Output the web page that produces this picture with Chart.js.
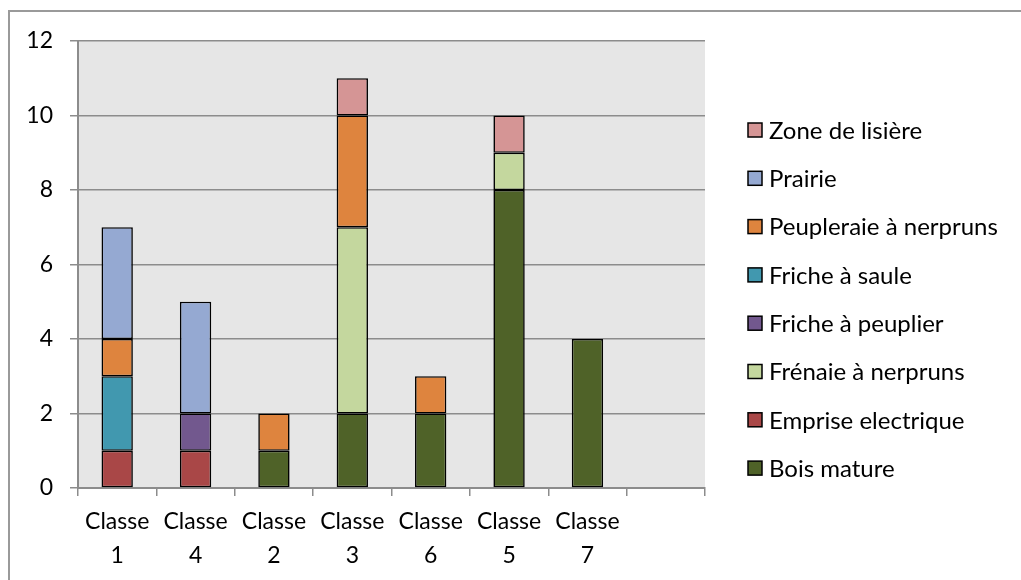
<!DOCTYPE html>
<html>
<head>
<meta charset="utf-8">
<script src="https://cdn.jsdelivr.net/npm/chart.js@4.4.1/dist/chart.umd.min.js"></script>
<style>
  html, body { margin: 0; padding: 0; background: #fff; overflow: hidden; }
  #wrap { position: relative; width: 1021px; height: 580px; }
  #frame {
    position: absolute; left: 8px; top: 10px; width: 1100px; height: 700px;
    border: 2px solid #9a9a9a; box-sizing: border-box;
  }
  canvas { position: absolute; left: 0; top: 0; }
</style>
</head>
<body>
<div id="wrap">
  <div id="frame"></div>
  <canvas id="chart" width="1021" height="580"></canvas>
</div>
<script>
// categories (the last slot stays empty)
const classes = [["Classe", "1"], ["Classe", "4"], ["Classe", "2"], ["Classe", "3"],
                 ["Classe", "6"], ["Classe", "5"], ["Classe", "7"], ""];

// habitat counts per class, bottom of the stack first
const boisMature      = [0, 0, 1, 2, 2, 8, 4, 0];
const empriseElec     = [1, 1, 0, 0, 0, 0, 0, 0];
const frenaie         = [0, 0, 0, 5, 0, 1, 0, 0];
const frichePeuplier  = [0, 1, 0, 0, 0, 0, 0, 0];
const fricheSaule     = [2, 0, 0, 0, 0, 0, 0, 0];
const peupleraie      = [1, 0, 1, 3, 1, 0, 0, 0];
const prairie         = [3, 3, 0, 0, 0, 0, 0, 0];
const zoneLisiere     = [0, 0, 0, 1, 0, 1, 0, 0];

const yTicks = [0, 2, 4, 6, 8, 10, 12];

const FONT = "Lato, 'Open Sans', sans-serif";

function ds(label, data, color) {
  return {
    label, data,
    backgroundColor: color,
    borderColor: "#000",
    borderWidth: 1.6,
    borderSkipped: false,
    barPercentage: 0.4,
    categoryPercentage: 1
  };
}

const datasets = [
  ds("Bois mature", boisMature, "#4f6228"),
  ds("Emprise electrique", empriseElec, "#a94747"),
  ds("Frénaie à nerpruns", frenaie, "#c4d79e"),
  ds("Friche à peuplier", frichePeuplier, "#72588e"),
  ds("Friche à saule", fricheSaule, "#4198af"),
  ds("Peupleraie à nerpruns", peupleraie, "#de843e"),
  ds("Prairie", prairie, "#95a9d2"),
  ds("Zone de lisière", zoneLisiere, "#d59595")
];

// grey plot background
const plotBg = {
  id: "plotBg",
  beforeDraw(chart) {
    const { ctx, chartArea: a } = chart;
    ctx.save();
    ctx.fillStyle = "#e6e6e6";
    ctx.fillRect(a.left, a.top, a.right - a.left, a.bottom - a.top);
    ctx.restore();
  }
};

// legend on the right, top entry = top of the stack
const sideLegend = {
  id: "sideLegend",
  afterDraw(chart) {
    const { ctx } = chart;
    const items = chart.data.datasets.slice().reverse();
    ctx.save();
    ctx.font = "24px " + FONT;
    ctx.textBaseline = "middle";
    items.forEach((d, i) => {
      const y = 130 + i * 48.3;
      ctx.fillStyle = d.backgroundColor;
      ctx.fillRect(748, y - 7, 14, 14);
      ctx.strokeStyle = "#000";
      ctx.lineWidth = 1.5;
      ctx.strokeRect(748, y - 7, 14, 14);
      ctx.fillStyle = "#000";
      ctx.fillText(d.label, 769, y + 1);
    });
    ctx.restore();
  }
};

new Chart(document.getElementById("chart"), {
  type: "bar",
  data: { labels: classes, datasets },
  options: {
    responsive: false,
    animation: false,
    layout: { padding: { top: 41, right: 316, left: 0, bottom: 0 } },
    plugins: { legend: { display: false }, tooltip: { enabled: false } },
    scales: {
      x: {
        stacked: true,
        grid: { display: true, drawOnChartArea: false, offset: true, color: "#8c8c8c", lineWidth: 1.5, tickLength: 8 },
        border: { color: "#8c8c8c", width: 2 },
        ticks: { color: "#000", font: { family: FONT, size: 23, lineHeight: 1.5 }, padding: 8, maxRotation: 0, autoSkip: false },
        afterFit(scale) { scale.height = 92; }
      },
      y: {
        stacked: true,
        min: 0, max: 12,
        afterBuildTicks(scale) { scale.ticks = yTicks.map(v => ({ value: v })); },
        grid: { color: "#8c8c8c", lineWidth: 1.5, tickLength: 8 },
        border: { color: "#8c8c8c", width: 2 },
        ticks: { color: "#000", font: { family: FONT, size: 23 }, padding: 17 },
        afterFit(scale) { scale.width = 78; }
      }
    }
  },
  plugins: [plotBg, sideLegend]
});
</script>
</body>
</html>
